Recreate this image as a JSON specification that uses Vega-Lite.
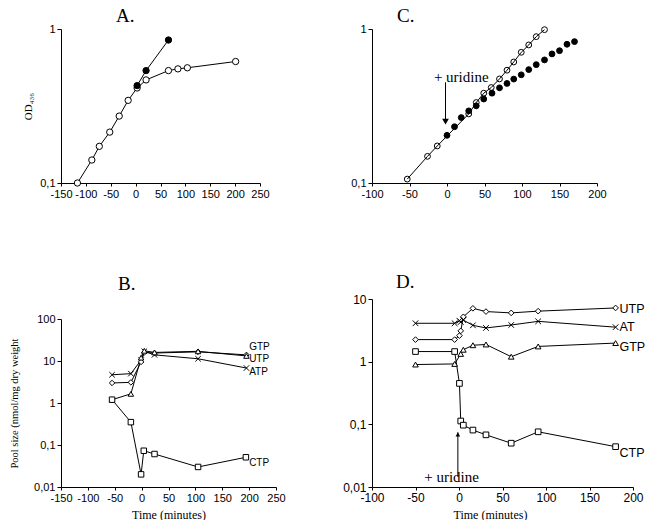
{
  "$schema": "https://vega.github.io/schema/vega-lite/v6.json",
  "padding": {"left": 9, "top": 7, "right": 0, "bottom": 0},
  "background": "white",
  "bounds": "flush",
  "align": "each",
  "columns": 2,
  "spacing": {"row": 116, "column": 96},
  "datasets": {
    "A": [
      {"series": "open", "t": -117, "v": 0.100},
      {"series": "open", "t": -88, "v": 0.141},
      {"series": "open", "t": -73, "v": 0.173},
      {"series": "open", "t": -52, "v": 0.214},
      {"series": "open", "t": -33, "v": 0.272},
      {"series": "open", "t": -15, "v": 0.344},
      {"series": "open", "t": 3, "v": 0.414},
      {"series": "open", "t": 21, "v": 0.467},
      {"series": "open", "t": 66, "v": 0.537},
      {"series": "open", "t": 85, "v": 0.551},
      {"series": "open", "t": 104, "v": 0.560},
      {"series": "open", "t": 201, "v": 0.615},
      {"series": "filled", "t": 3, "v": 0.429},
      {"series": "filled", "t": 21, "v": 0.537},
      {"series": "filled", "t": 66, "v": 0.848}
    ],
    "C": [
      {"series": "open", "t": -53, "v": 0.106},
      {"series": "open", "t": -26, "v": 0.149},
      {"series": "open", "t": -13, "v": 0.174},
      {"series": "open", "t": 29, "v": 0.281},
      {"series": "open", "t": 39, "v": 0.333},
      {"series": "open", "t": 49, "v": 0.383},
      {"series": "open", "t": 59, "v": 0.417},
      {"series": "open", "t": 70, "v": 0.474},
      {"series": "open", "t": 80, "v": 0.540},
      {"series": "open", "t": 89, "v": 0.611},
      {"series": "open", "t": 99, "v": 0.706},
      {"series": "open", "t": 109, "v": 0.788},
      {"series": "open", "t": 119, "v": 0.892},
      {"series": "open", "t": 130, "v": 0.990},
      {"series": "filled", "t": 0, "v": 0.204},
      {"series": "filled", "t": 10, "v": 0.232},
      {"series": "filled", "t": 19, "v": 0.266},
      {"series": "filled", "t": 29, "v": 0.294},
      {"series": "filled", "t": 39, "v": 0.317},
      {"series": "filled", "t": 49, "v": 0.351},
      {"series": "filled", "t": 60, "v": 0.383},
      {"series": "filled", "t": 70, "v": 0.415},
      {"series": "filled", "t": 80, "v": 0.443},
      {"series": "filled", "t": 89, "v": 0.473},
      {"series": "filled", "t": 99, "v": 0.504},
      {"series": "filled", "t": 109, "v": 0.545},
      {"series": "filled", "t": 119, "v": 0.587},
      {"series": "filled", "t": 130, "v": 0.630},
      {"series": "filled", "t": 140, "v": 0.689},
      {"series": "filled", "t": 150, "v": 0.723},
      {"series": "filled", "t": 160, "v": 0.796},
      {"series": "filled", "t": 170, "v": 0.828}
    ],
    "Cnote": [
      {"t": -2, "v": 0.451, "v2": 0.245, "label": "+ uridine", "lt": 19, "lv": 0.451, "av": 0.25}
    ],
    "B": [
      {"series": "ATP", "t": -55, "v": 4.7},
      {"series": "ATP", "t": -20, "v": 5.0},
      {"series": "ATP", "t": -1, "v": 10.5},
      {"series": "ATP", "t": 5, "v": 17},
      {"series": "ATP", "t": 24, "v": 14},
      {"series": "ATP", "t": 105, "v": 11.3},
      {"series": "ATP", "t": 195, "v": 6.8},
      {"series": "UTP", "t": -55, "v": 3.0},
      {"series": "UTP", "t": -20, "v": 3.1},
      {"series": "UTP", "t": -1, "v": 9.5},
      {"series": "UTP", "t": 5, "v": 16},
      {"series": "UTP", "t": 24, "v": 15.5},
      {"series": "UTP", "t": 105, "v": 16.5},
      {"series": "UTP", "t": 195, "v": 14},
      {"series": "GTP", "t": -55, "v": 1.2},
      {"series": "GTP", "t": -20, "v": 1.65},
      {"series": "GTP", "t": -1, "v": 12},
      {"series": "GTP", "t": 5, "v": 17.5},
      {"series": "GTP", "t": 24, "v": 16},
      {"series": "GTP", "t": 105, "v": 17},
      {"series": "GTP", "t": 195, "v": 13.2},
      {"series": "CTP", "t": -55, "v": 1.2},
      {"series": "CTP", "t": -20, "v": 0.35},
      {"series": "CTP", "t": -1, "v": 0.02},
      {"series": "CTP", "t": 4, "v": 0.073},
      {"series": "CTP", "t": 24, "v": 0.061},
      {"series": "CTP", "t": 105, "v": 0.030},
      {"series": "CTP", "t": 194, "v": 0.051}
    ],
    "Blab": [
      {"t": 200, "v": 21, "label": "GTP"},
      {"t": 200, "v": 11.2, "label": "UTP"},
      {"t": 200, "v": 5.35, "label": "ATP"},
      {"t": 200, "v": 0.037, "label": "CTP"}
    ],
    "D": [
      {"series": "UTP", "t": -50, "v": 2.25},
      {"series": "UTP", "t": -5, "v": 2.25},
      {"series": "UTP", "t": 0.5, "v": 2.6},
      {"series": "UTP", "t": 2, "v": 3.1},
      {"series": "UTP", "t": 5, "v": 5.2},
      {"series": "UTP", "t": 16, "v": 7.1},
      {"series": "UTP", "t": 31, "v": 6.3},
      {"series": "UTP", "t": 60, "v": 6.0},
      {"series": "UTP", "t": 91, "v": 6.4},
      {"series": "UTP", "t": 180, "v": 7.2},
      {"series": "ATP", "t": -50, "v": 4.1},
      {"series": "ATP", "t": -5, "v": 4.1},
      {"series": "ATP", "t": 0.5, "v": 4.5},
      {"series": "ATP", "t": 2, "v": 4.3},
      {"series": "ATP", "t": 5, "v": 4.6},
      {"series": "ATP", "t": 16, "v": 3.8},
      {"series": "ATP", "t": 31, "v": 3.45},
      {"series": "ATP", "t": 60, "v": 3.85},
      {"series": "ATP", "t": 91, "v": 4.4},
      {"series": "ATP", "t": 180, "v": 3.55},
      {"series": "GTP", "t": -50, "v": 0.9},
      {"series": "GTP", "t": -5, "v": 0.92},
      {"series": "GTP", "t": 2, "v": 1.33},
      {"series": "GTP", "t": 5, "v": 1.55},
      {"series": "GTP", "t": 16, "v": 1.83},
      {"series": "GTP", "t": 31, "v": 1.88},
      {"series": "GTP", "t": 60, "v": 1.2},
      {"series": "GTP", "t": 91, "v": 1.75},
      {"series": "GTP", "t": 180, "v": 1.98},
      {"series": "CTP", "t": -50, "v": 1.45},
      {"series": "CTP", "t": -5, "v": 1.45},
      {"series": "CTP", "t": 0.5, "v": 0.45},
      {"series": "CTP", "t": 2, "v": 0.113},
      {"series": "CTP", "t": 5, "v": 0.097},
      {"series": "CTP", "t": 16, "v": 0.081},
      {"series": "CTP", "t": 31, "v": 0.068},
      {"series": "CTP", "t": 60, "v": 0.050},
      {"series": "CTP", "t": 91, "v": 0.076},
      {"series": "CTP", "t": 180, "v": 0.044}
    ],
    "Dlab": [
      {"t": 184.5, "v": 6.9, "label": "UTP"},
      {"t": 184.5, "v": 3.57, "label": "AT"},
      {"t": 184.5, "v": 1.71, "label": "GTP"},
      {"t": 184.5, "v": 0.035, "label": "CTP"}
    ],
    "Dnote": [
      {"t": -1.3, "v": 0.0145, "v2": 0.075, "label": "+ uridine", "lt": -8.6, "lv": 0.012, "av": 0.069}
    ]
  },
  "concat": [
    {
      "width": 199,
      "height": 154,
      "title": {"text": "A.", "dx": 55, "offset": -3},
      "encoding": {
        "x": {"field": "t", "type": "quantitative", "scale": {"domain": [-150, 250], "nice": false, "zero": false},
              "axis": {"values": [-150, -100, -50, 0, 50, 100, 150, 200, 250], "title": null}},
        "y": {"field": "v", "type": "quantitative", "scale": {"type": "log", "domain": [0.1, 1], "nice": false},
              "axis": {"values": [0.1, 1], "title": "OD₄₃₆", "titleFontSize": 11, "titlePadding": 6}}
      },
      "layer": [
        {"data": {"name": "A"}, "mark": {"type": "line", "color": "black", "strokeWidth": 1},
         "encoding": {"detail": {"field": "series", "type": "nominal"}}},
        {"data": {"name": "A"}, "mark": {"type": "point", "shape": "circle", "size": 40, "filled": true, "stroke": "black", "strokeWidth": 1, "opacity": 1},
         "encoding": {"fill": {"field": "series", "type": "nominal", "scale": {"domain": ["open", "filled"], "range": ["white", "black"]}, "legend": null}}}
      ]
    },
    {
      "width": 225,
      "height": 154,
      "title": {"text": "C.", "dx": 25, "offset": -3},
      "encoding": {
        "x": {"field": "t", "type": "quantitative", "scale": {"domain": [-100, 200], "nice": false, "zero": false},
              "axis": {"values": [-100, -50, 0, 50, 100, 150, 200], "title": null}},
        "y": {"field": "v", "type": "quantitative", "scale": {"type": "log", "domain": [0.1, 1], "nice": false},
              "axis": {"values": [0.1, 1], "title": null}}
      },
      "layer": [
        {"data": {"name": "C"}, "mark": {"type": "point", "shape": "circle", "size": 34, "filled": true, "stroke": "black", "strokeWidth": 1, "opacity": 1},
         "encoding": {"fill": {"field": "series", "type": "nominal", "scale": {"domain": ["open", "filled"], "range": ["white", "black"]}, "legend": null}}},
        {"data": {"name": "C"}, "transform": [{"filter": "datum.series === 'open'"}],
         "mark": {"type": "line", "color": "black", "strokeWidth": 1}},
        {"data": {"name": "Cnote"}, "mark": {"type": "rule", "color": "black", "strokeWidth": 1},
         "encoding": {"y2": {"field": "v2"}}},
        {"data": {"name": "Cnote"}, "mark": {"type": "point", "shape": "triangle-down", "size": 45, "filled": true, "color": "black", "opacity": 1},
         "encoding": {"y": {"field": "av", "type": "quantitative"}}},
        {"data": {"name": "Cnote"}, "mark": {"type": "text", "font": "Liberation Serif", "fontSize": 15, "align": "center", "baseline": "alphabetic", "color": "black"},
         "encoding": {"x": {"field": "lt", "type": "quantitative"}, "y": {"field": "lv", "type": "quantitative"}, "text": {"field": "label"}}}
      ]
    },
    {
      "width": 215,
      "height": 188,
      "title": {"text": "B.", "dx": 57, "offset": 5},
      "encoding": {
        "x": {"field": "t", "type": "quantitative", "scale": {"domain": [-150, 250], "nice": false, "zero": false},
              "axis": {"values": [-150, -100, -50, 0, 50, 100, 150, 200, 250], "title": "Time (minutes)", "titleFontSize": 12, "titlePadding": 6}},
        "y": {"field": "v", "type": "quantitative", "scale": {"type": "log", "domain": [0.01, 100], "nice": false, "range": [188, 20]},
              "axis": {"values": [0.01, 0.1, 1, 10, 100], "title": "Pool size (nmol/mg dry weight", "titleFontSize": 10.5, "titlePadding": 14}}
      },
      "layer": [
        {"data": {"name": "B"}, "mark": {"type": "line", "color": "black", "strokeWidth": 1},
         "encoding": {"detail": {"field": "series", "type": "nominal"}}},
        {"data": {"name": "B"}, "mark": {"type": "point", "size": 30, "filled": true, "fill": "white", "stroke": "black", "strokeWidth": 1, "opacity": 1},
         "encoding": {"shape": {"field": "series", "type": "nominal", "scale": {"domain": ["ATP", "UTP", "GTP", "CTP"], "range": ["M-1,-1L1,1M-1,1L1,-1", "diamond", "triangle-up", "square"]}, "legend": null}}},
        {"data": {"name": "Blab"}, "mark": {"type": "text", "font": "Liberation Sans", "fontSize": 10, "align": "left", "baseline": "middle", "color": "black"},
         "encoding": {"text": {"field": "label"}}}
      ]
    },
    {
      "width": 261,
      "height": 188,
      "title": {"text": "D.", "dx": 24, "offset": 1},
      "encoding": {
        "x": {"field": "t", "type": "quantitative", "scale": {"domain": [-100, 200], "nice": false, "zero": false},
              "axis": {"values": [-100, -50, 0, 50, 100, 150, 200], "title": "Time (minutes)", "titleFontSize": 12, "titlePadding": 6, "titleX": 118, "labelFontSize": 12}},
        "y": {"field": "v", "type": "quantitative", "scale": {"type": "log", "domain": [0.01, 10], "nice": false},
              "axis": {"values": [0.01, 0.1, 1, 10], "title": null, "labelFontSize": 12}}
      },
      "layer": [
        {"data": {"name": "D"}, "mark": {"type": "line", "color": "black", "strokeWidth": 1},
         "encoding": {"detail": {"field": "series", "type": "nominal"}}},
        {"data": {"name": "D"}, "mark": {"type": "point", "size": 32, "filled": true, "fill": "white", "stroke": "black", "strokeWidth": 1, "opacity": 1},
         "encoding": {"shape": {"field": "series", "type": "nominal", "scale": {"domain": ["ATP", "UTP", "GTP", "CTP"], "range": ["M-1,-1L1,1M-1,1L1,-1", "diamond", "triangle-up", "square"]}, "legend": null}}},
        {"data": {"name": "Dlab"}, "mark": {"type": "text", "font": "Liberation Sans", "fontSize": 12.5, "align": "left", "baseline": "middle", "color": "black"},
         "encoding": {"text": {"field": "label"}}},
        {"data": {"name": "Dnote"}, "mark": {"type": "rule", "color": "black", "strokeWidth": 1},
         "encoding": {"y2": {"field": "v2"}}},
        {"data": {"name": "Dnote"}, "mark": {"type": "point", "shape": "triangle-up", "size": 22, "filled": true, "color": "black", "opacity": 1},
         "encoding": {"y": {"field": "av", "type": "quantitative"}}},
        {"data": {"name": "Dnote"}, "mark": {"type": "text", "font": "Liberation Serif", "fontSize": 15, "align": "center", "baseline": "alphabetic", "color": "black"},
         "encoding": {"x": {"field": "lt", "type": "quantitative"}, "y": {"field": "lv", "type": "quantitative"}, "text": {"field": "label"}}}
      ]
    }
  ],
  "config": {
    "view": {"stroke": null},
    "title": {"font": "Liberation Serif", "fontSize": 19, "fontWeight": "normal", "anchor": "start", "frame": "group", "color": "black"},
    "axis": {
      "grid": false,
      "domainColor": "black",
      "domainWidth": 1,
      "tickColor": "black",
      "tickWidth": 1,
      "tickSize": 4,
      "labelColor": "black",
      "labelFont": "Liberation Sans",
      "labelFontSize": 11,
      "labelPadding": 2,
      "labelFlush": false,
      "labelOverlap": false,
      "labelBound": false,
      "titleFont": "Liberation Serif",
      "titleFontWeight": "normal",
      "titleColor": "black"
    },
    "axisX": {"tickSize": 3, "labelExpr": "'' + datum.value"},
    "axisY": {"labelExpr": "replace('' + datum.value, '.', ',')"}
  }
}
